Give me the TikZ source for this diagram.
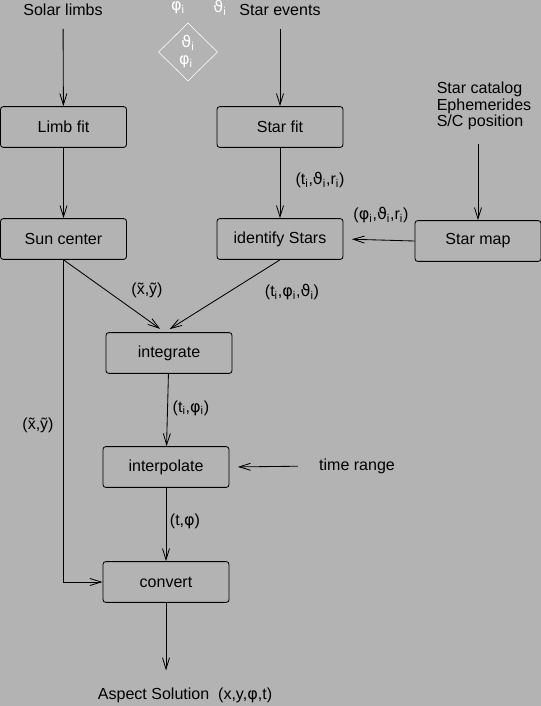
\documentclass[tikz,border=0pt]{standalone}
\usepackage{fontspec}
\setmainfont{Liberation Sans}
\newfontfamily\greekfont{DejaVu Sans}
\usetikzlibrary{arrows.meta,shapes.geometric}
\definecolor{bggray}{RGB}{179,179,179}
\newcommand{\gphi}{{\greekfont φ}}
\newcommand{\gthe}{{\greekfont ϑ}}
\newcommand{\ix}{\textsubscript{i}}
\begin{document}
\begin{tikzpicture}[
    x=0.025cm, y=-0.025cm,
    font=\fontsize{11.4}{11.8}\selectfont,
    box/.style={
      draw, rounded corners=2pt, line width=0.6pt,
      minimum width=3.15cm, minimum height=1.02cm, inner sep=2pt
    },
    txt/.style={inner sep=1pt},
    lbl/.style={inner sep=1pt},
    wtxt/.style={inner sep=1pt, text=white},
    arr/.style={-{Straight Barb[length=8pt,width=5pt]}, line width=0.6pt},
  ]
  \fill[bggray] (0,0) rectangle (541,706);
  \useasboundingbox (0,0) rectangle (541,706);

  % Inputs
  \node[txt] (limbs) at (63,10) {Solar limbs};
  \node[txt] (events) at (280,10) {Star events};
  \node[txt, align=left] (catalog) at (484,106) {Star catalog\\Ephemerides\\S/C position};
  \node[txt] (timerange) at (357,466) {time range};

  % White marks
  \node[wtxt] (phitop) at (178,8) {\gphi\ix};
  \node[wtxt] (thetop) at (220,8) {\gthe\ix};
  \node[draw=white, diamond, minimum width=1.48cm, minimum height=1.45cm, inner sep=0pt] (dia) at (188,52) {};
  \node[wtxt] (diathe) at (188,43) {\gthe\ix};
  \node[wtxt] (diaphi) at (186,62) {\gphi\ix};

  % Boxes
  \node[box] (limbfit) at (63.5,127) {Limb fit};
  \node[box] (starfit) at (280,127) {Star fit};
  \node[box] (suncenter) at (63.5,239) {Sun center};
  \node[box] (identify) at (280,239) {identify Stars};
  \node[box] (starmap) at (478,241) {Star map};
  \node[box] (integrate) at (169,353) {integrate};
  \node[box] (interpolate) at (166,467) {interpolate};
  \node[box] (convert) at (166,582) {convert};
  \node[txt] (aspect) at (185,695) {Aspect Solution\ \ (x,y,\gphi,t)};

  % Labels
  \node[lbl] (l1) at (320,180) {(t\ix,\gthe\ix,r\ix)};
  \node[lbl] (l2) at (381,215) {(\gphi\ix,\gthe\ix,r\ix)};
  \node[lbl] (l3) at (147,290) {(\~x,\~y)};
  \node[lbl] (l4) at (292,292) {(t\ix,\gphi\ix,\gthe\ix)};
  \node[lbl] (l5) at (38,425) {(\~x,\~y)};
  \node[lbl] (l6) at (191,408) {(t\ix,\gphi\ix)};
  \node[lbl] (l7) at (185,521) {(t,\gphi)};

  % Connectors
  \draw[arr, shorten <=8pt] (limbs) -- (limbfit);
  \draw[arr, shorten <=8pt] (events) -- (starfit);
  \draw[arr] (limbfit) -- (suncenter);
  \draw[arr] (starfit) -- (identify);
  \draw[arr, shorten <=9pt] (catalog.south -| starmap.north) -- (starmap.north);
  \draw[arr, shorten >=6pt] (starmap.west) -- (identify.east);
  \draw[arr, shorten >=4pt] (suncenter.south) -- ([xshift=-3pt]integrate.north);
  \draw[arr, shorten >=4pt] (identify.south) -- ([xshift=-3pt]integrate.north);
  \draw[arr] (integrate) -- (interpolate);
  \draw[arr, shorten <=14pt, shorten >=6pt] (timerange.west) -- (interpolate.east);
  \draw[arr] (interpolate) -- (convert);
  \draw[arr] (suncenter.south) |- (convert.west);
  \draw[arr, shorten >=11pt] (convert.south) -- (convert.south |- aspect.north);
\end{tikzpicture}
\end{document}
